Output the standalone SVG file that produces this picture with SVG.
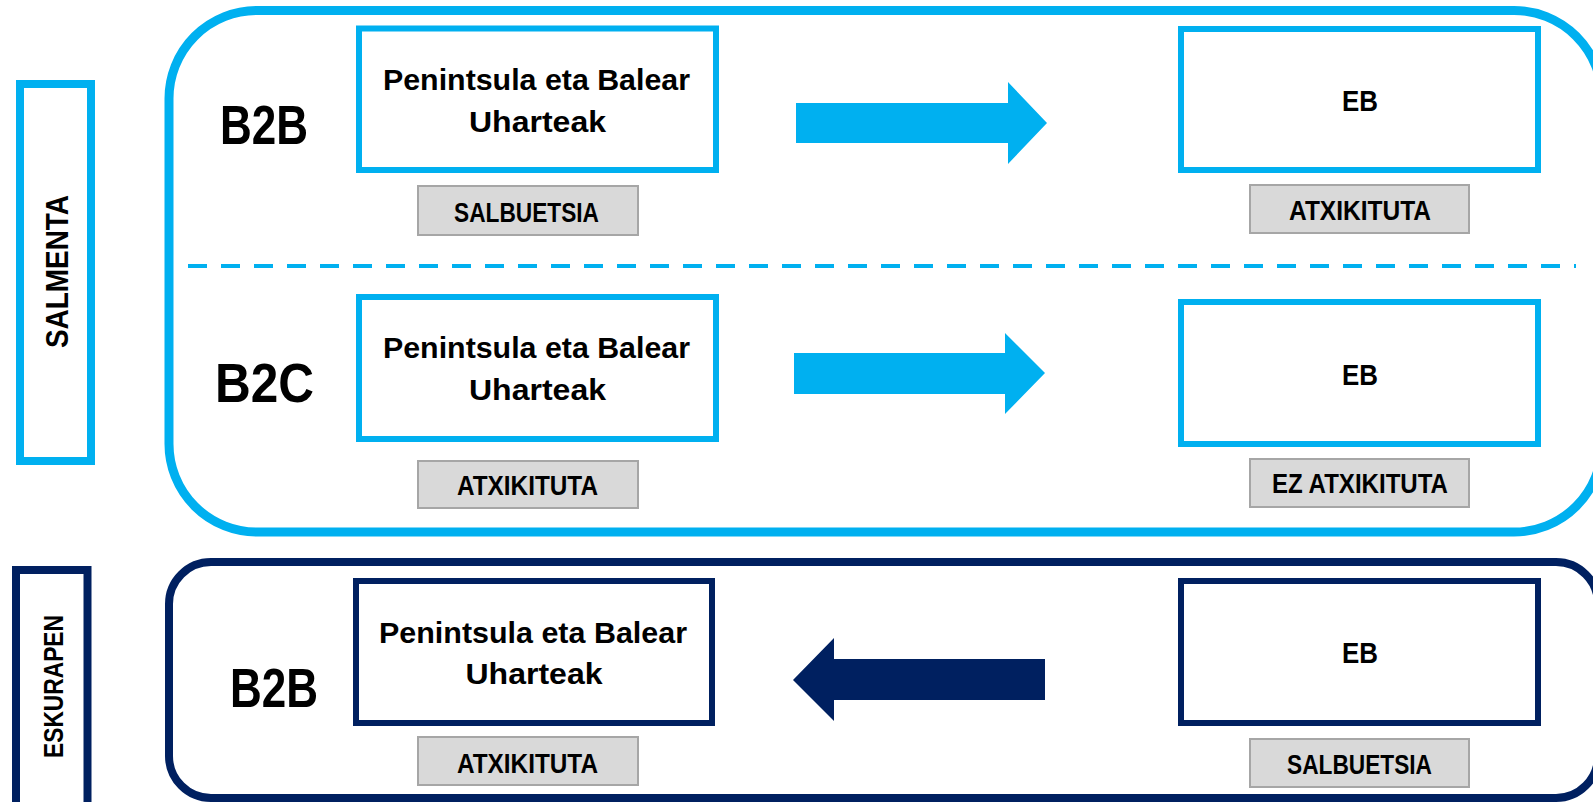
<svg xmlns="http://www.w3.org/2000/svg" width="1593" height="802" viewBox="0 0 1593 802">
<defs>
<style>
.t{font-family:"Liberation Sans",Arial,sans-serif;font-weight:bold;fill:#000;text-anchor:middle}
.big{font-size:56px}
.box{font-size:30px}
.eb{font-size:30px}
.tag{font-size:28px}
.side{font-size:31px}
.lb{fill:#fff;stroke:#00B0F0;stroke-width:6}
.nb{fill:#fff;stroke:#002060;stroke-width:6}
.gray{fill:#D9D9D9;stroke:#A6A6A6;stroke-width:2}
</style>
</defs>
<rect width="1593" height="802" fill="#fff"/>
<g id="salmenta-group">
<rect x="169" y="10.5" width="1433" height="521.5" rx="88" ry="88" fill="none" stroke="#00B0F0" stroke-width="9"/>
</g>
<g id="eskurapen-group">
<rect x="169" y="562" width="1429" height="236" rx="42" ry="42" fill="none" stroke="#002060" stroke-width="8"/>
</g>
<g id="salmenta-label">
<rect x="20" y="84" width="71" height="377" fill="#fff" stroke="#00B0F0" stroke-width="8"/>
<text class="t side" transform="translate(68,271.5) rotate(-90)" textLength="153" lengthAdjust="spacingAndGlyphs">SALMENTA</text>
</g>
<g id="eskurapen-label">
<rect x="16" y="570" width="71.5" height="250" fill="#fff" stroke="#002060" stroke-width="8"/>
<text class="t side" style="font-size:28px" transform="translate(63,686.5) rotate(-90)" textLength="143" lengthAdjust="spacingAndGlyphs">ESKURAPEN</text>
</g>
<g id="divider">
<line x1="188" y1="266" x2="1576" y2="266" stroke="#00B0F0" stroke-width="4" stroke-dasharray="19 14"/>
</g>
<g id="row1-label"><text class="t big" x="264" y="144" textLength="88" lengthAdjust="spacingAndGlyphs">B2B</text></g>
<g id="row2-label"><text class="t big" x="264.5" y="402" textLength="99" lengthAdjust="spacingAndGlyphs">B2C</text></g>
<g id="row3-label"><text class="t big" x="274" y="707" textLength="88" lengthAdjust="spacingAndGlyphs">B2B</text></g>
<g id="r1-origin">
<rect class="lb" x="359" y="28.5" width="357" height="141.5"/>
<text class="t box" x="536.5" y="90" textLength="307" lengthAdjust="spacingAndGlyphs">Penintsula eta Balear</text>
<text class="t box" x="537.5" y="132" textLength="137" lengthAdjust="spacingAndGlyphs">Uharteak</text>
</g>
<g id="r1-origin-tag">
<rect class="gray" x="418" y="186" width="220" height="49"/>
<text class="t tag" x="526.5" y="222" textLength="145" lengthAdjust="spacingAndGlyphs">SALBUETSIA</text>
</g>
<g id="r1-dest">
<rect class="lb" x="1181" y="29" width="357" height="141"/>
<text class="t eb" x="1360" y="111" textLength="36" lengthAdjust="spacingAndGlyphs">EB</text>
</g>
<g id="r1-dest-tag">
<rect class="gray" x="1250" y="185" width="219" height="48"/>
<text class="t tag" x="1360" y="220" textLength="142" lengthAdjust="spacingAndGlyphs">ATXIKITUTA</text>
</g>
<g id="r2-origin">
<rect class="lb" x="359" y="297" width="357" height="142"/>
<text class="t box" x="536.5" y="358" textLength="307" lengthAdjust="spacingAndGlyphs">Penintsula eta Balear</text>
<text class="t box" x="537.5" y="400" textLength="137" lengthAdjust="spacingAndGlyphs">Uharteak</text>
</g>
<g id="r2-origin-tag">
<rect class="gray" x="418" y="461" width="220" height="47"/>
<text class="t tag" x="527.5" y="495" textLength="141" lengthAdjust="spacingAndGlyphs">ATXIKITUTA</text>
</g>
<g id="r2-dest">
<rect class="lb" x="1181" y="302" width="357" height="142"/>
<text class="t eb" x="1360" y="385" textLength="36" lengthAdjust="spacingAndGlyphs">EB</text>
</g>
<g id="r2-dest-tag">
<rect class="gray" x="1250" y="459" width="219" height="48"/>
<text class="t tag" x="1360" y="493" textLength="176" lengthAdjust="spacingAndGlyphs">EZ ATXIKITUTA</text>
</g>
<g id="r3-origin">
<rect class="nb" x="356" y="581" width="356" height="142"/>
<text class="t box" x="533" y="643" textLength="308" lengthAdjust="spacingAndGlyphs">Penintsula eta Balear</text>
<text class="t box" x="534" y="684" textLength="137" lengthAdjust="spacingAndGlyphs">Uharteak</text>
</g>
<g id="r3-origin-tag">
<rect class="gray" x="418" y="737" width="220" height="48"/>
<text class="t tag" x="527.5" y="773" textLength="141" lengthAdjust="spacingAndGlyphs">ATXIKITUTA</text>
</g>
<g id="r3-dest">
<rect class="nb" x="1181" y="581" width="357" height="142"/>
<text class="t eb" x="1360" y="663" textLength="36" lengthAdjust="spacingAndGlyphs">EB</text>
</g>
<g id="r3-dest-tag">
<rect class="gray" x="1250" y="739" width="219" height="48"/>
<text class="t tag" x="1359.5" y="774" textLength="145" lengthAdjust="spacingAndGlyphs">SALBUETSIA</text>
</g>
<g id="connectors">
<polygon points="796,103 1008,103 1008,82 1047,123 1008,164 1008,143 796,143" fill="#00B0F0"/>
<polygon points="794,353 1005,353 1005,333 1045,373 1005,414 1005,394 794,394" fill="#00B0F0"/>
<polygon points="1045,659 834,659 834,638 793,680 834,721 834,700 1045,700" fill="#002060"/>
</g>
</svg>
